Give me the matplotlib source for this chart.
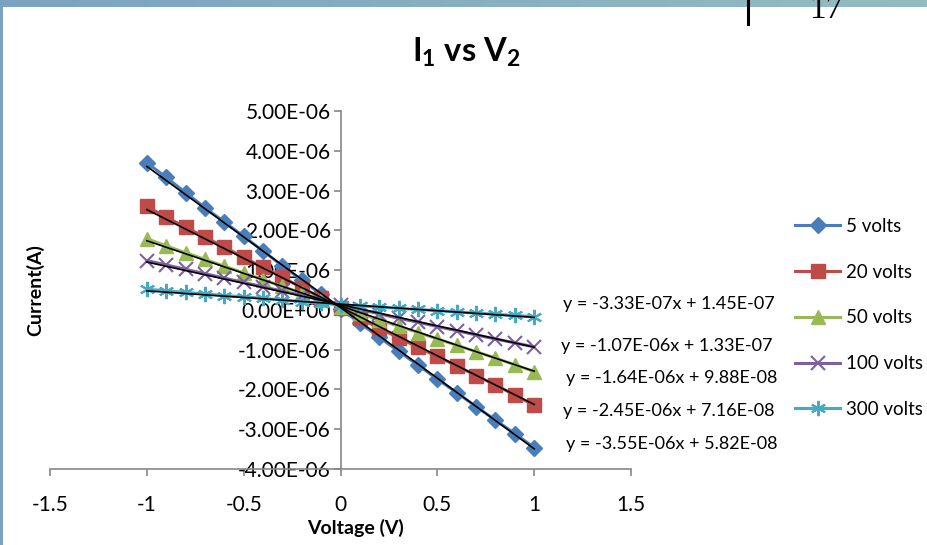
import numpy as np
import matplotlib
matplotlib.use("Agg")
import matplotlib.pyplot as plt
from matplotlib.patches import Rectangle
from matplotlib.colors import LinearSegmentedColormap

plt.rcParams['font.family'] = ['Lato', 'DejaVu Sans']
plt.rcParams['mathtext.fontset'] = 'custom'
plt.rcParams['mathtext.rm'] = 'Lato'
plt.rcParams['mathtext.bf'] = 'Lato:bold'

# ---------------- data ----------------
voltage = [-1.0, -0.9, -0.8, -0.7, -0.6, -0.5, -0.4, -0.3, -0.2, -0.1, 0.0,
           0.1, 0.2, 0.3, 0.4, 0.5, 0.6, 0.7, 0.8, 0.9, 1.0]
series_names = ['5 volts', '20 volts', '50 volts', '100 volts', '300 volts']
# current in units of 1E-06 A
i_5v = [3.70, 3.33, 2.95, 2.57, 2.21, 1.85, 1.48, 1.11, 0.75, 0.39, 0.03,
        -0.33, -0.69, -1.04, -1.39, -1.74, -2.08, -2.43, -2.77, -3.11, -3.46]
i_20v = [2.60, 2.33, 2.08, 1.83, 1.58, 1.32, 1.07, 0.82, 0.56, 0.31, 0.05,
         -0.21, -0.46, -0.70, -0.94, -1.17, -1.41, -1.65, -1.89, -2.14, -2.40]
i_50v = [1.79, 1.61, 1.44, 1.27, 1.10, 0.93, 0.76, 0.59, 0.42, 0.25, 0.08,
         -0.09, -0.25, -0.41, -0.57, -0.73, -0.89, -1.05, -1.21, -1.38, -1.55]
i_100v = [1.24, 1.13, 1.02, 0.91, 0.80, 0.69, 0.58, 0.47, 0.36, 0.25, 0.12,
          0.01, -0.10, -0.21, -0.31, -0.42, -0.52, -0.63, -0.73, -0.83, -0.93]
i_300v = [0.52, 0.48, 0.44, 0.40, 0.36, 0.33, 0.29, 0.25, 0.21, 0.17, 0.13,
          0.10, 0.07, 0.04, 0.01, -0.02, -0.05, -0.08, -0.11, -0.14, -0.17]
# trendline coefficients (A/V, A)
slopes = [-3.55e-06, -2.45e-06, -1.64e-06, -1.07e-06, -3.33e-07]
intercepts = [5.82e-08, 7.16e-08, 9.88e-08, 1.33e-07, 1.45e-07]
eq_labels = ['y = -3.55E-06x + 5.82E-08', 'y = -2.45E-06x + 7.16E-08',
             'y = -1.64E-06x + 9.88E-08', 'y = -1.07E-06x + 1.33E-07',
             'y = -3.33E-07x + 1.45E-07']
x_ticks = [-1.5, -1, -0.5, 0, 0.5, 1, 1.5]
x_tick_labels = ['-1.5', '-1', '-0.5', '0', '0.5', '1', '1.5']
y_ticks = [-4e-06, -3e-06, -2e-06, -1e-06, 0, 1e-06, 2e-06, 3e-06, 4e-06, 5e-06]
y_tick_labels = ['-4.00E-06', '-3.00E-06', '-2.00E-06', '-1.00E-06', '0.00E+00',
                 '1.00E-06', '2.00E-06', '3.00E-06', '4.00E-06', '5.00E-06']

currents = [i_5v, i_20v, i_50v, i_100v, i_300v]
colors = ['#4A7EBB', '#BE4B48', '#98B954', '#7D60A0', '#46AAC5']
markers = ['D', 's', '^', 'x', (6, 2, 0)]
msizes = [8.5, 10.5, 10.5, 10, 11]
mew = [1, 1, 1, 1.5, 1.5]

W, H = 928, 545
fig = plt.figure(figsize=(W / 100, H / 100), dpi=100)

# decorative slide frame
grad = np.linspace(0, 1, 256).reshape(1, -1)
cmap = LinearSegmentedColormap.from_list('bar', ['#7BA3C0', '#93BCC0'])
bar_ax = fig.add_axes([0, 1 - 7 / H, 1, 7 / H])
bar_ax.imshow(grad, aspect='auto', cmap=cmap, extent=[0, 1, 0, 1])
bar_ax.axis('off')
fig.patches.append(Rectangle((0, 0), 2.5 / W, 1, transform=fig.transFigure,
                             facecolor='#7BA3C0', edgecolor='none', zorder=0))
fig.add_artist(plt.Line2D([748 / W, 748 / W], [1, 1 - 24 / H], color='black',
                          lw=2.2, transform=fig.transFigure, zorder=5))
fig.text(826 / W, 1 - 18 / H, '17', fontsize=24, family='Liberation Serif',
         ha='center', va='baseline', zorder=5)

# main axes
L, R, T, B = 50, 631, 111, 469
ax = fig.add_axes([L / W, 1 - B / H, (R - L) / W, (B - T) / H])
ax.set_xlim(-1.5, 1.5)
ax.set_ylim(-4e-06, 5e-06)

handles = []
for name, cur, c, m, ms, mw in zip(series_names, currents, colors, markers, msizes, mew):
    y = np.array(cur) * 1e-06
    h, = ax.plot(voltage, y, color=c, lw=2.2, marker=m, markersize=ms,
                 markerfacecolor=c, markeredgecolor=c, markeredgewidth=mw,
                 label=name, zorder=3)
    handles.append(h)

xl = np.array([voltage[0], voltage[-1]])
for s, b in zip(slopes, intercepts):
    ax.plot(xl, s * xl + b, color='black', lw=1.2, zorder=4)

ax.spines['top'].set_visible(False)
ax.spines['right'].set_visible(False)
ax.spines['left'].set_position(('data', 0))
for sp in ('left', 'bottom'):
    ax.spines[sp].set_color('#868686')
    ax.spines[sp].set_linewidth(1.2)
ax.set_xticks(x_ticks)
ax.set_xticklabels(x_tick_labels)
ax.set_yticks(y_ticks)
ax.set_yticklabels(y_tick_labels)
ax.tick_params(axis='both', direction='out', length=5, color='#868686',
               labelsize=15, labelcolor='black', width=1.2)
ax.tick_params(axis='x', pad=14)
ax.tick_params(axis='y', pad=2)

ax.set_xlabel('Voltage (V)', fontsize=14, fontweight='bold')
ax.xaxis.set_label_coords((355 - L) / (R - L), -(519 - B) / (B - T))
ax.set_ylabel('Current(A)', fontsize=14, fontweight='bold')
ax.yaxis.set_label_coords(-(L - 44) / (R - L), 0.5)

fig.text(466 / W, 1 - 52 / H, r'$\mathbf{I_1}$ vs $\mathbf{V_2}$', fontsize=23.5,
         fontweight='bold', ha='center', va='center')

# trendline equations
eq_pos = [(566, 444), (563, 411), (566, 378), (561, 346), (563, 304)]
for (px, py), t in zip(eq_pos, eq_labels):
    fig.text(px / W, 1 - py / H, t, fontsize=13, ha='left', va='center')

leg = fig.legend(handles=handles, loc='upper left',
                 bbox_to_anchor=(795 / W, 1 - 218 / H), frameon=False,
                 fontsize=13.5, handlelength=2.4, labelspacing=1.53,
                 handletextpad=0.3, borderpad=0, borderaxespad=0)

fig.savefig('out.png', dpi=100)
